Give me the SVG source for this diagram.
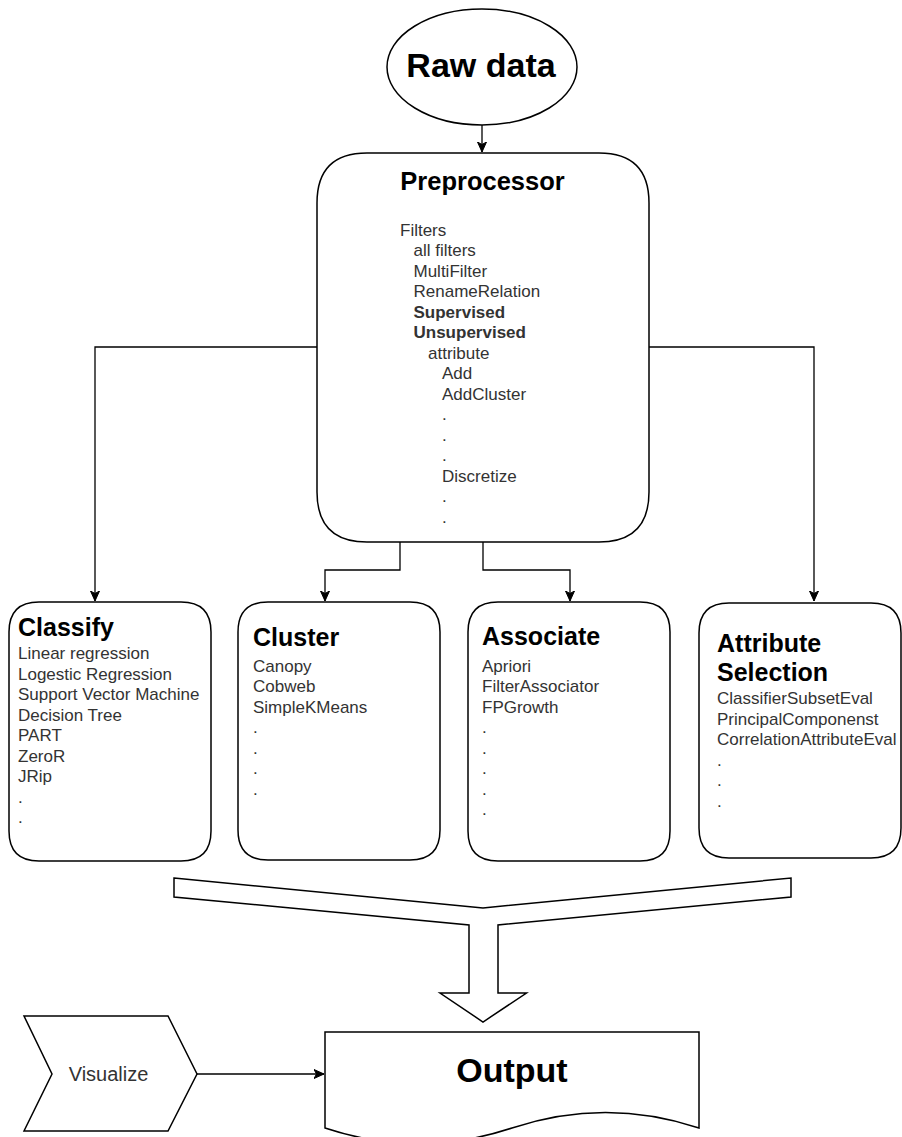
<svg xmlns="http://www.w3.org/2000/svg" width="902" height="1137" viewBox="0 0 902 1137">
<style>
  .shape { fill: #ffffff; stroke: #000000; stroke-width: 1.5; }
  .conn { fill: none; stroke: #000000; stroke-width: 1.3; }
  .title { font-family: "Liberation Sans", Arial, sans-serif; font-weight: bold; fill: #000000; }
  .item { font-family: "Liberation Sans", Arial, sans-serif; font-size: 17px; fill: #333333; }
  .b { font-weight: bold; }
</style>
<defs>
  <marker id="arrow" markerUnits="userSpaceOnUse" markerWidth="12" markerHeight="10" viewBox="0 -5 12 10" refX="10" refY="0" orient="auto">
    <path d="M0,-4.5 L10,0 L0,4.5 L2.5,0 Z" fill="#000000" stroke="#000000" stroke-width="1"/>
  </marker>
</defs>
<rect x="0" y="0" width="902" height="1137" fill="#ffffff"/>

<g id="connectors">
  <path class="conn" d="M482,125 L482,152" marker-end="url(#arrow)"/>
  <path class="conn" d="M317,347 L95,347 L95,601" marker-end="url(#arrow)"/>
  <path class="conn" d="M649,347 L814,347 L814,601" marker-end="url(#arrow)"/>
  <path class="conn" d="M400,542 L400,570 L325,570 L325,601" marker-end="url(#arrow)"/>
  <path class="conn" d="M483,542 L483,570 L570,570 L570,601" marker-end="url(#arrow)"/>
  <path class="conn" d="M197,1074 L324,1074" marker-end="url(#arrow)"/>
</g>

<g id="raw-data">
  <ellipse class="shape" cx="482" cy="67" rx="95" ry="58"/>
  <text class="title" x="481" y="77" font-size="34" text-anchor="middle">Raw data</text>
</g>

<g id="preprocessor">
  <path class="shape" d="M367,153 L599,153 Q649,153 649,203 L649,492 Q649,542 599,542 L367,542 Q317,542 317,492 L317,203 Q317,153 367,153 Z"/>
  <text class="title" x="482.5" y="190" font-size="25.5" text-anchor="middle">Preprocessor</text>
  <text class="item" x="400" y="235.5">Filters</text>
  <text class="item" x="413.5" y="256">all filters</text>
  <text class="item" x="413.5" y="276.5">MultiFilter</text>
  <text class="item" x="413.5" y="297">RenameRelation</text>
  <text class="item b" x="413.5" y="317.5">Supervised</text>
  <text class="item b" x="413.5" y="338">Unsupervised</text>
  <text class="item" x="428" y="358.5">attribute</text>
  <text class="item" x="442" y="379">Add</text>
  <text class="item" x="442" y="399.5">AddCluster</text>
  <text class="item" x="442" y="420">.</text>
  <text class="item" x="442" y="440.5">.</text>
  <text class="item" x="442" y="461">.</text>
  <text class="item" x="442" y="481.5">Discretize</text>
  <text class="item" x="442" y="502">.</text>
  <text class="item" x="442" y="522.5">.</text>
</g>

<g id="classify">
  <path class="shape" d="M39,602 L181,602 Q211,602 211,632 L211,831 Q211,861 181,861 L39,861 Q9,861 9,831 L9,632 Q9,602 39,602 Z"/>
  <text class="title" x="18" y="636" font-size="25">Classify</text>
  <text class="item" x="18" y="659">Linear regression</text>
  <text class="item" x="18" y="679.5">Logestic Regression</text>
  <text class="item" x="18" y="700">Support Vector Machine</text>
  <text class="item" x="18" y="720.5">Decision Tree</text>
  <text class="item" x="18" y="741">PART</text>
  <text class="item" x="18" y="761.5">ZeroR</text>
  <text class="item" x="18" y="782">JRip</text>
  <text class="item" x="18" y="802.5">.</text>
  <text class="item" x="18" y="823">.</text>
</g>

<g id="cluster">
  <path class="shape" d="M268,602 L410,602 Q440,602 440,632 L440,830 Q440,860 410,860 L268,860 Q238,860 238,830 L238,632 Q238,602 268,602 Z"/>
  <text class="title" x="253" y="646" font-size="25">Cluster</text>
  <text class="item" x="253" y="671.5">Canopy</text>
  <text class="item" x="253" y="692">Cobweb</text>
  <text class="item" x="253" y="712.5">SimpleKMeans</text>
  <text class="item" x="253" y="733">.</text>
  <text class="item" x="253" y="753.5">.</text>
  <text class="item" x="253" y="774">.</text>
  <text class="item" x="253" y="794.5">.</text>
</g>

<g id="associate">
  <path class="shape" d="M498,602 L640,602 Q670,602 670,632 L670,831 Q670,861 640,861 L498,861 Q468,861 468,831 L468,632 Q468,602 498,602 Z"/>
  <text class="title" x="482" y="645" font-size="25">Associate</text>
  <text class="item" x="482" y="671.5">Apriori</text>
  <text class="item" x="482" y="692">FilterAssociator</text>
  <text class="item" x="482" y="712.5">FPGrowth</text>
  <text class="item" x="482" y="733">.</text>
  <text class="item" x="482" y="753.5">.</text>
  <text class="item" x="482" y="774">.</text>
  <text class="item" x="482" y="794.5">.</text>
  <text class="item" x="482" y="815">.</text>
</g>

<g id="attribute-selection">
  <path class="shape" d="M729,603 L871,603 Q901,603 901,633 L901,828 Q901,858 871,858 L729,858 Q699,858 699,828 L699,633 Q699,603 729,603 Z"/>
  <text class="title" x="717" y="652" font-size="25">Attribute</text>
  <text class="title" x="717" y="681" font-size="25">Selection</text>
  <text class="item" x="717" y="704">ClassifierSubsetEval</text>
  <text class="item" x="717" y="724.5">PrincipalComponenst</text>
  <text class="item" x="717" y="745">CorrelationAttributeEval</text>
  <text class="item" x="717" y="765.5">.</text>
  <text class="item" x="717" y="786">.</text>
  <text class="item" x="717" y="806.5">.</text>
</g>

<g id="merge-arrow">
  <polygon class="shape" points="174,878 483,908 791,878 791,897 498,925 498,993 526.5,993 483,1022 440,993 469,993 469,925 174,897"/>
</g>

<g id="visualize">
  <polygon class="shape" points="24,1016 168,1016 197,1074 168,1131 24,1131 52,1074"/>
  <text class="item" x="108.5" y="1081" font-size="20" text-anchor="middle" style="font-size:20px">Visualize</text>
</g>

<g id="output">
  <path class="shape" d="M325,1032 L699,1032 L699,1128 Q605.5,1097 512,1128 Q418.5,1159 325,1128 Z"/>
  <text class="title" x="512" y="1082" font-size="34" text-anchor="middle">Output</text>
</g>
</svg>
